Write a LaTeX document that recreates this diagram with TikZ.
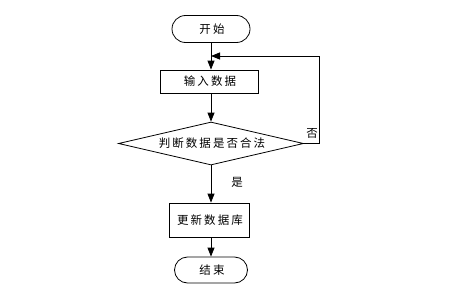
\documentclass[tikz,border=0pt]{standalone}
\usepackage{fontspec}
\newfontfamily\cjk[LetterSpace=18]{Noto Sans CJK SC}
\usetikzlibrary{shapes.geometric,shapes.misc,arrows.meta}
\begin{document}
\begin{tikzpicture}[x=1pt,y=-1pt,
  every node/.style={font=\cjk\fontsize{11.5}{12}\selectfont},
  term/.style={draw,thick,rounded rectangle,minimum width=78pt,minimum height=27pt,inner sep=0pt},
  proc/.style={draw,thick,rectangle,inner sep=0pt},
  dec/.style={draw,thick,diamond,aspect=4.3,inner sep=0pt,minimum width=185pt,minimum height=43pt},
  arr/.style={thick,-{Triangle[length=9pt,width=7pt]}},
  lbl/.style={inner sep=0pt}]
\useasboundingbox (0,0) rectangle (455,289);
\fill[white] (0,0) rectangle (455,289);
\node[term] (start) at (211,29) {开始\kern-2pt};
\node[proc,minimum width=98pt,minimum height=23pt] (input) at (209,81.5) {输入数据\kern-2pt};
\node[dec] (judge) at (211,143.5) {判断数据是否合法\kern-2pt};
\node[proc,minimum width=80pt,minimum height=34pt] (update) at (209,220) {更新数据库\kern-2pt};
\node[term,minimum width=73pt,minimum height=26pt] (end) at (211,270) {结束\kern-2pt};
\coordinate (c1) at (319,143.5);
\coordinate (c2) at (319,56);
\coordinate (m) at (211,56);
\draw[arr] (start.south) -- (start.south |- input.north);
\draw[arr] (start.south |- input.south) -- (judge.north);
\draw[arr] (judge.south) -- (judge.south |- update.north);
\draw[arr] (judge.south |- update.south) -- (end.north);
\draw[arr] (judge.east) -- (c1) -- (c2) -- (m);
\node[lbl] (no) at (311,133) {否\kern-2pt};
\node[lbl] (yes) at (236,182) {是\kern-2pt};
\end{tikzpicture}
\end{document}
